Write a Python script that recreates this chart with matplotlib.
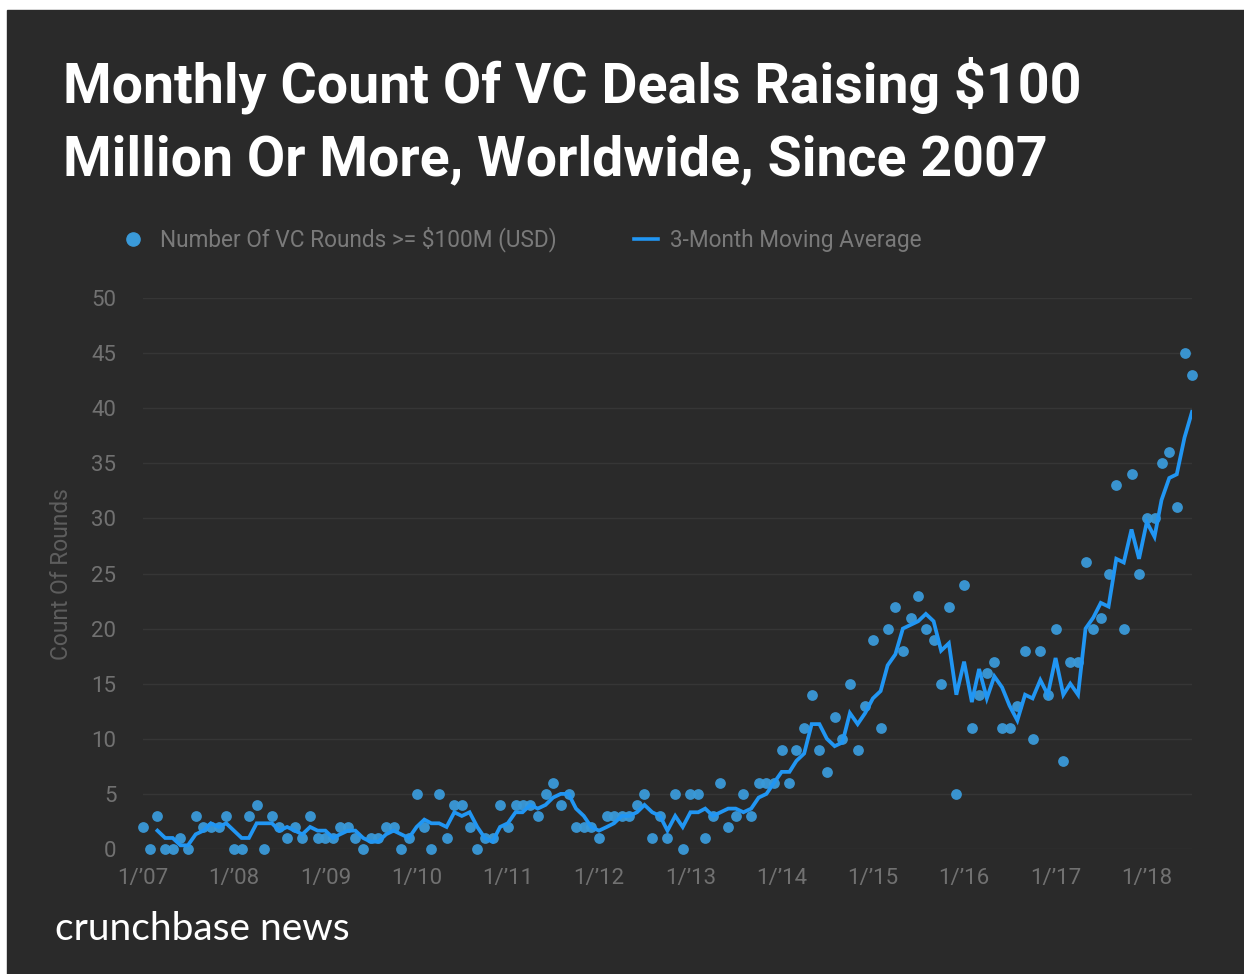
import pandas as pd
import matplotlib
matplotlib.use("Agg")
import matplotlib.pyplot as plt
from matplotlib.patches import Rectangle
from matplotlib.lines import Line2D

# monthly count of VC rounds >= $100M, Jan 2007 .. Jul 2018
rounds = [
    2, 0, 3, 0, 0, 1, 0, 3, 2, 2, 2, 3,          # 2007
    0, 0, 3, 4, 0, 3, 2, 1, 2, 1, 3, 1,          # 2008
    1, 1, 2, 2, 1, 0, 1, 1, 2, 2, 0, 1,          # 2009
    5, 2, 0, 5, 1, 4, 4, 2, 0, 1, 1, 4,          # 2010
    2, 4, 4, 4, 3, 5, 6, 4, 5, 2, 2, 2,          # 2011
    1, 3, 3, 3, 3, 4, 5, 1, 3, 1, 5, 0,          # 2012
    5, 5, 1, 3, 6, 2, 3, 5, 3, 6, 6, 6,          # 2013
    9, 6, 9, 11, 14, 9, 7, 12, 10, 15, 9, 13,    # 2014
    19, 11, 20, 22, 18, 21, 23, 20, 19, 15, 22, 5,   # 2015
    24, 11, 14, 16, 17, 11, 11, 13, 18, 10, 18, 14,  # 2016
    20, 8, 17, 17, 26, 20, 21, 25, 33, 20, 34, 25,   # 2017
    30, 30, 35, 36, 31, 45, 43,                      # 2018
]
months = pd.date_range("2007-01-01", periods=len(rounds), freq="MS")
moving_avg = pd.Series(rounds, index=months).rolling(3).mean()

tick_years = list(range(2007, 2019))
tick_labels = ["1/\u2019%02d" % (y % 100) for y in tick_years]
y_ticks = list(range(0, 51, 5))

BG = "#2a2a2a"
GRID = "#363636"
TICK = "#717171"
LEG = "#7a7a7a"
DOT = "#3a9ad9"
LINE = "#2196f3"
W, H = 1244, 974

plt.rcParams["font.family"] = ["Roboto", "DejaVu Sans"]

fig = plt.figure(figsize=(W / 100, H / 100), dpi=100, facecolor="white")
fig.patches.append(Rectangle((7 / W, 0), 1 - 7 / W, 1 - 10 / H,
                             transform=fig.transFigure, color=BG, zorder=0))

ax = fig.add_axes([142.7 / W, 125 / H, (1192 - 142.7) / W, 551 / H])
ax.set_zorder(2)
ax.set_facecolor("none")

ax.scatter(months, rounds, s=60, color=DOT, alpha=0.95, linewidths=0,
           zorder=3, clip_on=False)
ax.plot(moving_avg.index, moving_avg.values, color=LINE, lw=2.7, zorder=4,
        solid_joinstyle="miter")

ax.set_xlim(months[0], months[-1])
ax.set_ylim(0, 50)
ax.set_yticks(y_ticks)
ax.set_xticks([pd.Timestamp(f"{y}-01-01") for y in tick_years])
ax.set_xticklabels(tick_labels)
ax.tick_params(axis="both", length=0, colors=TICK, labelsize=16)
ax.tick_params(axis="y", pad=19)
ax.tick_params(axis="x", pad=14)
ax.grid(axis="y", color=GRID, lw=1)
ax.set_axisbelow(True)
for s in ax.spines.values():
    s.set_visible(False)

# title
fig.text(63 / W, 1 - 103 / H, "Monthly Count Of VC Deals Raising $100",
         color="white", fontsize=40, fontweight="bold", va="baseline")
fig.text(63 / W, 1 - 175 / H, "Million Or More, Worldwide, Since 2007",
         color="white", fontsize=40, fontweight="bold", va="baseline")

# legend
ly = 1 - 239 / H
lb = 1 - 246.7 / H
fig.add_artist(Line2D([133 / W], [ly], marker="o", ms=9.5, color=DOT, lw=0,
                      transform=fig.transFigure))
fig.text(160 / W, lb, "Number Of VC Rounds >= $100M (USD)", color=LEG,
         fontsize=16.3, va="baseline")
fig.add_artist(Line2D([634 / W, 658 / W], [ly, ly], color=LINE, lw=2.6,
                      transform=fig.transFigure))
fig.text(670 / W, lb, "3-Month Moving Average", color=LEG, fontsize=16.3,
         va="baseline")

fig.text(61 / W, 1 - 574 / H, "Count Of Rounds", color="#5e5e5e",
         fontsize=16.4, rotation=90, ha="center", va="center")

fig.text(55 / W, 1 - 940 / H, "crunchbase news", color="white", fontsize=28,
         family=["Lato", "DejaVu Sans"], va="baseline")

fig.savefig("out.png", dpi=100, facecolor=fig.get_facecolor())
